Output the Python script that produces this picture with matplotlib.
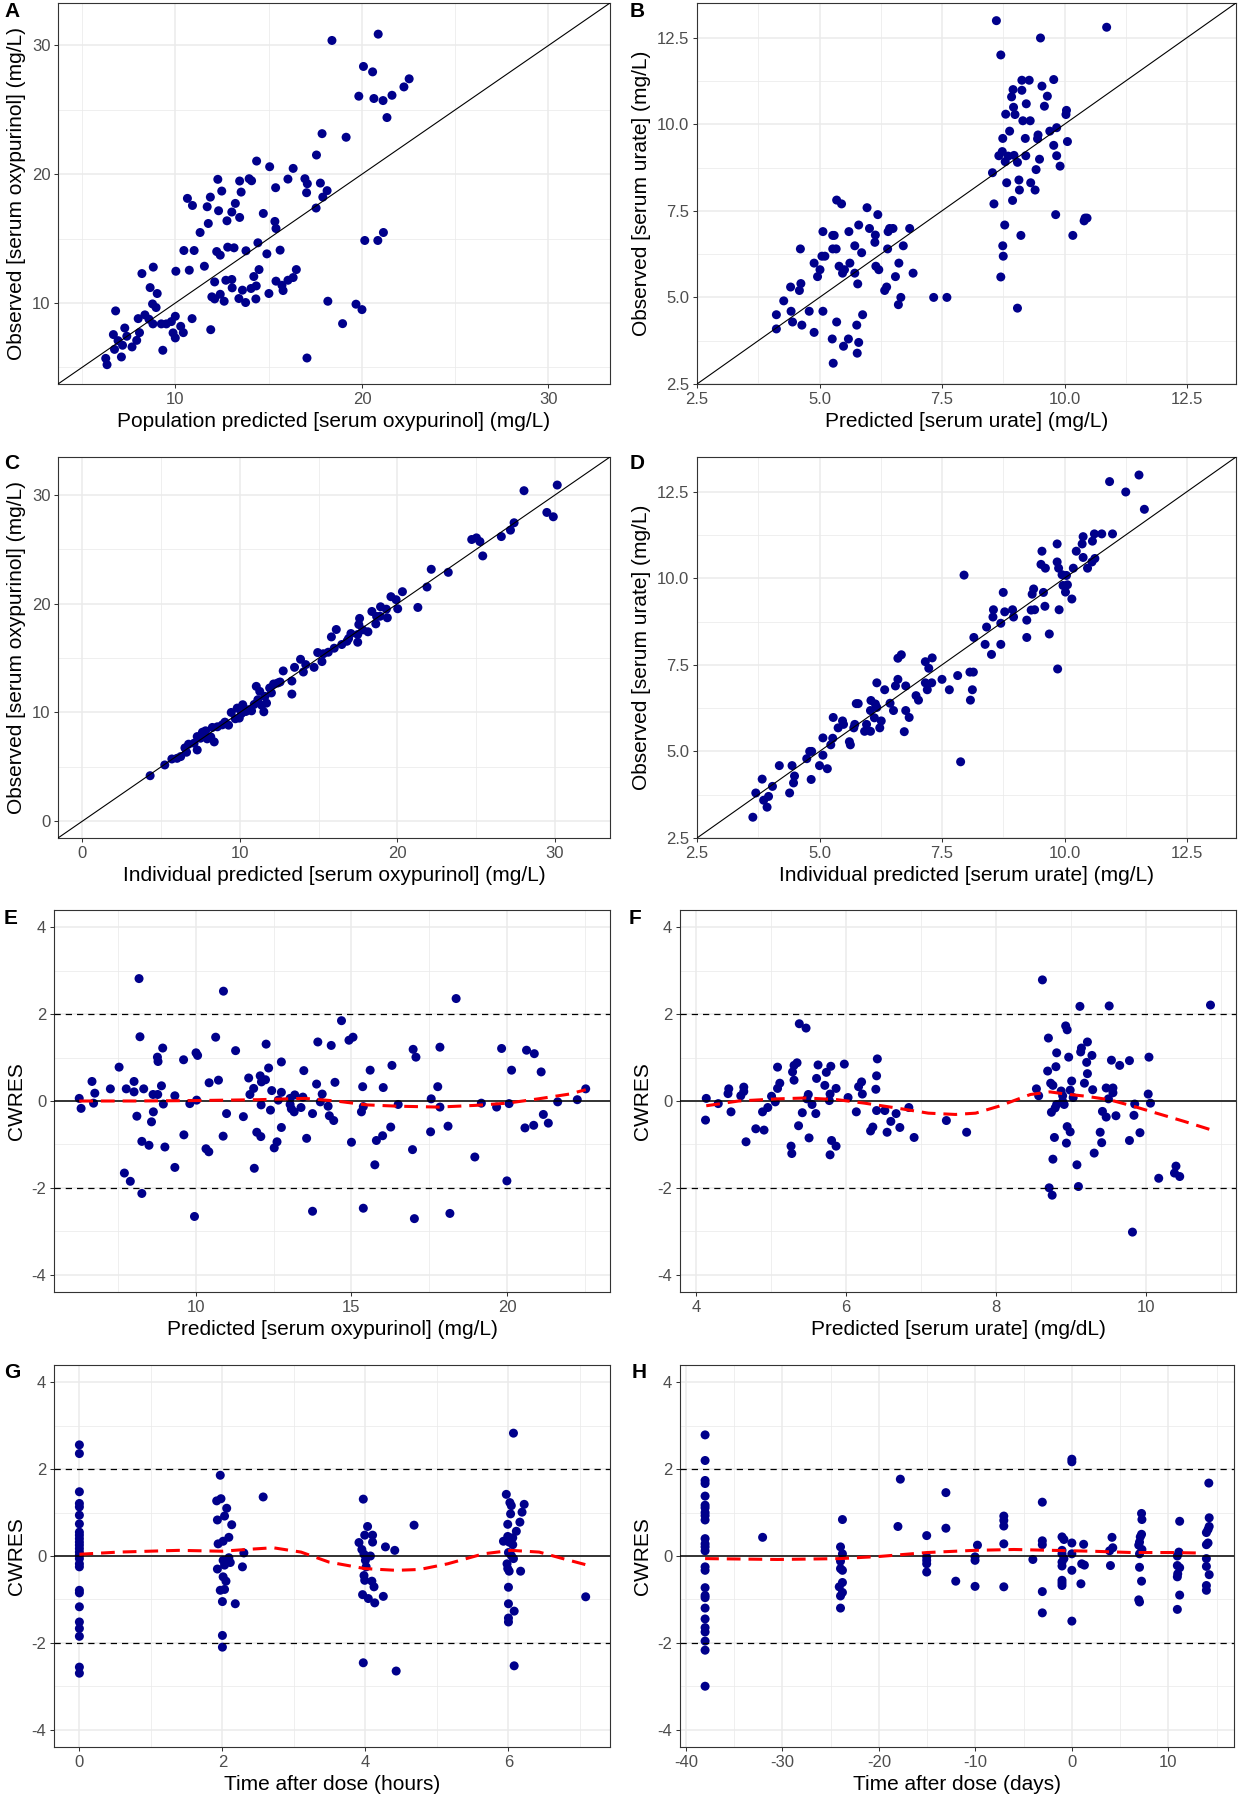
import numpy as np
import matplotlib
matplotlib.use("Agg")
import matplotlib.pyplot as plt

plt.rcParams['font.family'] = ['Liberation Sans', 'DejaVu Sans']
plt.rcParams['axes.unicode_minus'] = False

# ---------------- data ----------------
# A: population predicted vs observed oxypurinol (mg/L)
a_pts = [(20.87, 30.88), (18.39, 30.39), (20.08, 28.37), (20.57, 27.95), (22.53, 27.41),
         (22.25, 26.78), (19.83, 26.06), (20.64, 25.88), (21.13, 25.72), (21.61, 26.13),
         (21.34, 24.40), (17.86, 23.15), (19.15, 22.87), (17.56, 21.49), (14.35, 21.02),
         (15.05, 20.58), (16.31, 20.45), (12.27, 19.60), (13.44, 19.47), (13.95, 19.65),
         (14.08, 19.49), (16.03, 19.62), (16.94, 19.65), (17.07, 19.26), (17.77, 19.31),
         (15.37, 18.95), (12.48, 18.69), (13.52, 18.61), (17.03, 18.56), (18.13, 18.72),
         (17.90, 18.22), (10.64, 18.12), (11.87, 18.22), (10.91, 17.57), (11.70, 17.47),
         (13.21, 17.73), (13.02, 17.06), (12.31, 17.16), (14.71, 16.95), (13.44, 16.64),
         (12.76, 16.38), (11.76, 16.17), (15.33, 16.33), (15.39, 15.78), (17.54, 17.37),
         (11.32, 15.47), (21.15, 15.47), (20.15, 14.85), (20.85, 14.85), (14.42, 14.67),
         (10.45, 14.07), (11.00, 14.07), (12.21, 13.99), (12.40, 13.71), (12.80, 14.33),
         (13.14, 14.28), (13.78, 14.05), (15.61, 14.10), (14.90, 13.81), (11.55, 12.85),
         (10.74, 12.54), (10.02, 12.46), (8.81, 12.78), (8.20, 12.28), (14.48, 12.59),
         (16.48, 12.59), (14.20, 12.05), (16.31, 11.97), (12.10, 11.63), (12.70, 11.76),
         (13.02, 11.82), (15.39, 11.69), (16.03, 11.76), (15.71, 11.37), (14.33, 11.32),
         (14.05, 11.12), (13.59, 10.99), (13.04, 11.17), (8.64, 11.19), (9.02, 10.73),
         (15.01, 10.73), (15.77, 10.96), (11.95, 10.47), (12.40, 10.67), (12.10, 10.31),
         (12.61, 10.13), (13.40, 10.34), (13.76, 10.03), (14.31, 10.31), (8.77, 9.92),
         (8.96, 9.64), (18.17, 10.13), (19.68, 9.90), (20.00, 9.48), (6.79, 9.38),
         (8.00, 8.78), (8.36, 9.07), (8.58, 8.73), (10.89, 8.78), (9.99, 8.96),
         (9.78, 8.55), (9.51, 8.37), (9.24, 8.37), (8.79, 8.37), (10.28, 8.18),
         (18.96, 8.39), (7.28, 8.05), (11.89, 7.92), (8.07, 7.69), (10.42, 7.69),
         (9.87, 7.67), (6.67, 7.54), (9.99, 7.28), (6.92, 7.07), (7.39, 7.41),
         (7.92, 7.09), (7.16, 6.71), (7.67, 6.58), (6.73, 6.39), (9.32, 6.32),
         (7.10, 5.80), (6.26, 5.69), (6.33, 5.20), (17.05, 5.72)]

# B: predicted vs observed urate (mg/L)
b_pts = [(8.61, 12.99), (10.86, 12.80), (9.51, 12.49), (8.70, 12.00), (9.13, 11.27),
         (9.28, 11.27), (9.78, 11.29), (9.54, 11.10), (8.95, 11.00), (9.13, 10.98),
         (8.92, 10.79), (9.65, 10.81), (9.22, 10.59), (9.59, 10.52), (8.96, 10.49),
         (10.04, 10.40), (8.80, 10.29), (8.99, 10.28), (10.03, 10.28), (9.15, 10.10),
         (9.30, 10.10), (8.88, 9.80), (9.70, 9.80), (9.84, 9.90), (8.74, 9.59),
         (9.20, 9.59), (9.46, 9.69), (9.45, 9.58), (9.78, 9.39), (10.06, 9.50),
         (8.73, 9.21), (8.66, 9.09), (8.85, 9.08), (8.97, 9.10), (9.21, 9.09),
         (8.79, 8.92), (9.04, 8.90), (9.84, 9.09), (9.49, 8.99), (9.91, 8.79),
         (8.53, 8.60), (9.42, 8.69), (8.82, 8.31), (9.07, 8.39), (9.31, 8.31),
         (9.08, 8.10), (9.40, 8.10), (8.56, 7.70), (8.94, 7.80), (9.82, 7.39),
         (10.42, 7.29), (10.40, 7.21), (10.46, 7.29), (8.78, 7.09), (10.17, 6.79),
         (9.11, 6.79), (8.74, 6.49), (8.75, 6.19), (8.70, 5.59), (9.04, 4.69),
         (5.35, 7.81), (5.45, 7.70), (5.97, 7.59), (6.19, 7.39), (5.80, 7.09),
         (6.02, 6.99), (6.84, 6.99), (6.50, 6.99), (6.43, 6.99), (6.40, 6.90),
         (5.07, 6.90), (5.27, 6.79), (5.30, 6.79), (5.60, 6.90), (6.14, 6.80),
         (6.13, 6.59), (5.72, 6.49), (6.71, 6.49), (4.61, 6.40), (5.27, 6.40),
         (5.34, 6.40), (6.39, 6.40), (5.86, 6.29), (5.05, 6.19), (5.11, 6.19),
         (4.89, 5.99), (5.62, 5.99), (6.62, 5.99), (5.40, 5.90), (6.15, 5.90),
         (5.01, 5.80), (5.51, 5.80), (6.21, 5.80), (5.47, 5.70), (5.72, 5.70),
         (6.91, 5.70), (4.96, 5.60), (6.55, 5.60), (5.78, 5.39), (4.41, 5.30),
         (4.62, 5.40), (4.59, 5.20), (6.37, 5.30), (6.33, 5.20), (6.66, 5.00),
         (6.61, 4.79), (7.33, 5.00), (7.60, 5.00), (4.27, 4.90), (4.12, 4.50),
         (4.42, 4.60), (4.79, 4.60), (5.07, 4.60), (5.88, 4.50), (4.45, 4.29),
         (5.35, 4.29), (4.64, 4.20), (5.76, 4.20), (4.12, 4.09), (4.89, 3.99),
         (5.26, 3.80), (5.59, 3.80), (5.80, 3.70), (5.49, 3.59), (5.77, 3.39),
         (5.28, 3.10)]

# C: individual predicted vs observed oxypurinol (mg/L)
c_pts = [(30.15, 30.92), (28.04, 30.40), (29.49, 28.40), (29.90, 28.00), (27.41, 27.45),
         (27.18, 26.77), (26.60, 26.18), (24.72, 25.91), (25.02, 26.06), (25.24, 25.72),
         (25.42, 24.40), (22.15, 23.17), (23.23, 22.89), (21.88, 21.54), (20.32, 21.11),
         (19.59, 20.65), (19.92, 20.37), (21.30, 19.66), (20.02, 19.54), (18.93, 19.72),
         (18.38, 19.29), (18.68, 18.83), (19.36, 18.71), (17.60, 18.65), (17.55, 18.09),
         (18.63, 18.15), (18.13, 17.42), (17.48, 17.17), (17.05, 17.26), (16.12, 17.63),
         (15.81, 16.95), (17.48, 16.46), (16.80, 16.55), (16.47, 16.25), (15.99, 15.91),
         (15.61, 15.54), (14.94, 15.51), (15.21, 14.68), (13.85, 14.89), (13.47, 14.15),
         (14.18, 14.40), (14.71, 14.15), (14.03, 13.72), (12.75, 13.82), (12.55, 12.80),
         (13.30, 12.89), (13.30, 11.69), (12.14, 12.62), (11.89, 12.25), (11.04, 12.40),
         (11.26, 11.94), (11.59, 11.48), (11.14, 11.17), (10.91, 10.74), (11.69, 10.86),
         (11.52, 10.06), (10.54, 10.25), (10.18, 10.71), (9.83, 10.40), (9.45, 10.00),
         (9.96, 9.48), (9.71, 9.42), (9.28, 8.83), (9.05, 9.11), (8.57, 8.68),
         (8.25, 8.62), (8.37, 7.29), (7.82, 8.31), (8.15, 7.75), (7.92, 7.57),
         (7.29, 7.78), (7.29, 6.55), (7.09, 7.17), (6.74, 7.08), (6.51, 6.74),
         (6.61, 6.34), (6.24, 5.94), (6.01, 5.78), (5.68, 5.72), (5.23, 5.17),
         (4.30, 4.18), (10.38, 10.09), (10.74, 10.15), (11.39, 10.65), (12.40, 12.71),
         (7.62, 8.18), (7.49, 7.63), (8.88, 8.86), (12.00, 11.80), (16.90, 16.80),
         (17.80, 17.60), (18.90, 18.85), (19.30, 19.50), (15.30, 15.40), (10.10, 9.90)]

# D: individual predicted vs observed urate (mg/L)
d_pts = [(11.52, 12.98), (10.92, 12.79), (11.25, 12.49), (11.63, 11.99), (10.98, 11.28),
         (10.61, 11.28), (10.76, 11.28), (10.38, 11.20), (10.57, 11.07), (10.36, 10.99),
         (9.85, 10.99), (9.54, 10.78), (10.24, 10.78), (10.38, 10.60), (10.62, 10.57),
         (10.56, 10.47), (9.52, 10.40), (9.61, 10.29), (9.85, 10.47), (9.88, 10.29),
         (10.18, 10.29), (10.47, 10.29), (9.95, 10.10), (7.95, 10.09), (10.04, 10.08),
         (9.97, 9.79), (10.06, 9.81), (10.02, 9.60), (10.15, 9.40), (8.75, 9.59),
         (9.37, 9.69), (9.34, 9.54), (9.57, 9.59), (9.60, 9.19), (9.89, 9.09),
         (9.39, 9.09), (9.32, 9.08), (8.55, 9.09), (8.54, 8.88), (8.78, 9.03),
         (8.94, 9.09), (8.96, 8.88), (8.70, 8.70), (9.23, 8.79), (8.41, 8.59),
         (9.69, 8.39), (9.23, 8.29), (8.15, 8.29), (8.38, 8.09), (8.70, 8.09),
         (8.51, 7.80), (9.86, 7.38), (6.67, 7.79), (6.60, 7.69), (7.30, 7.70),
         (7.16, 7.59), (7.23, 7.40), (7.82, 7.19), (7.50, 7.08), (6.60, 7.08),
         (6.17, 6.98), (7.16, 6.98), (7.29, 6.98), (6.55, 6.89), (6.76, 6.89),
         (8.07, 7.29), (8.14, 7.29), (6.33, 6.78), (7.20, 6.78), (7.65, 6.78),
         (8.12, 6.78), (6.97, 6.61), (7.02, 6.48), (8.08, 6.48), (6.05, 6.47),
         (5.75, 6.38), (5.79, 6.38), (6.14, 6.37), (6.44, 6.39), (6.04, 6.18),
         (6.17, 6.27), (6.51, 6.18), (6.76, 6.18), (6.12, 5.97), (6.83, 5.98),
         (5.28, 5.98), (5.47, 5.88), (6.26, 5.88), (5.49, 5.78), (5.72, 5.78),
         (5.96, 5.78), (5.38, 5.68), (5.70, 5.68), (6.23, 5.68), (5.92, 5.58),
         (6.04, 5.58), (6.73, 5.57), (5.61, 5.28), (5.63, 5.19), (5.07, 5.39),
         (5.27, 5.38), (5.23, 5.19), (4.80, 5.00), (4.84, 5.00), (4.74, 4.79),
         (5.07, 4.89), (5.00, 4.59), (5.16, 4.50), (4.18, 4.59), (4.44, 4.59),
         (4.49, 4.29), (4.47, 4.09), (4.83, 4.19), (3.83, 4.20), (4.04, 3.99),
         (3.70, 3.80), (4.39, 3.80), (3.96, 3.70), (3.86, 3.59), (3.93, 3.39),
         (3.64, 3.10), (7.88, 4.70)]

# E: predicted oxypurinol vs CWRES
e_pts = [(8.18, 2.82), (10.89, 2.53), (18.36, 2.36), (14.68, 1.85), (8.21, 1.48),
         (10.64, 1.47), (15.05, 1.47), (14.92, 1.40), (13.92, 1.36), (12.26, 1.31),
         (14.35, 1.28), (8.94, 1.22), (17.84, 1.24), (19.82, 1.21), (16.98, 1.19),
         (20.62, 1.17), (20.87, 1.09), (11.28, 1.16), (10.01, 1.11), (10.06, 1.05),
         (17.07, 1.01), (8.77, 1.01), (8.79, 0.91), (9.61, 0.95), (12.75, 0.90),
         (7.54, 0.78), (12.34, 0.76), (16.30, 0.82), (13.47, 0.70), (15.60, 0.71),
         (20.14, 0.71), (21.09, 0.67), (12.07, 0.58), (11.70, 0.53), (6.67, 0.45),
         (8.02, 0.45), (10.73, 0.48), (10.43, 0.42), (12.24, 0.49), (12.11, 0.44),
         (14.47, 0.43), (8.90, 0.35), (13.88, 0.39), (15.36, 0.33), (16.02, 0.31),
         (17.77, 0.33), (7.26, 0.28), (7.77, 0.28), (8.33, 0.28), (22.52, 0.28),
         (11.86, 0.29), (12.44, 0.24), (8.02, 0.21), (6.76, 0.18), (12.75, 0.20),
         (8.63, 0.15), (8.78, 0.15), (14.06, 0.16), (11.74, 0.15), (9.33, 0.12),
         (13.18, 0.14), (13.44, 0.09), (6.26, 0.06), (13.03, 0.06), (17.56, 0.05),
         (22.25, 0.03), (21.62, -0.02), (10.03, 0.02), (12.65, 0.02), (14.00, -0.02),
         (19.17, -0.05), (16.50, -0.08), (6.72, -0.05), (8.96, -0.07), (9.81, -0.06),
         (13.03, -0.08), (20.06, -0.06), (12.10, -0.09), (14.25, -0.12), (15.38, -0.13),
         (17.84, -0.14), (19.66, -0.14), (6.32, -0.17), (13.38, -0.15), (13.07, -0.18),
         (12.40, -0.21), (13.16, -0.25), (15.32, -0.25), (8.64, -0.25), (13.75, -0.29),
         (10.99, -0.29), (21.16, -0.31), (8.11, -0.35), (11.53, -0.36), (14.29, -0.34),
         (14.43, -0.45), (8.58, -0.48), (21.32, -0.51), (20.85, -0.56), (18.10, -0.58),
         (16.26, -0.60), (12.75, -0.61), (20.57, -0.62), (17.54, -0.71), (11.96, -0.72),
         (9.62, -0.78), (12.09, -0.82), (10.88, -0.81), (16.00, -0.80), (15.80, -0.91),
         (13.56, -0.86), (8.27, -0.93), (12.61, -0.94), (15.00, -0.95), (8.50, -1.02),
         (9.01, -1.06), (10.33, -1.10), (12.52, -1.08), (10.42, -1.17), (16.96, -1.12),
         (18.96, -1.29), (15.75, -1.47), (9.33, -1.53), (11.88, -1.55), (7.71, -1.66),
         (7.90, -1.85), (19.99, -1.84), (8.27, -2.13), (15.38, -2.47), (13.75, -2.54),
         (18.16, -2.59), (9.96, -2.66), (17.02, -2.71)]
e_trend = [(6.26, 0.0), (8.0, 0.0), (10.0, 0.01), (12.0, 0.03), (13.5, 0.06),
           (14.5, 0.0), (15.5, -0.09), (16.5, -0.12), (17.8, -0.14), (19.0, -0.10),
           (20.0, -0.05), (21.0, 0.05), (22.0, 0.16), (22.52, 0.26)]

# F: predicted urate vs CWRES
f_pts = [(8.62, 2.79), (9.12, 2.18), (9.51, 2.19), (10.86, 2.21), (8.93, 1.73),
         (8.95, 1.64), (5.38, 1.78), (5.47, 1.68), (8.70, 1.45), (9.22, 1.36),
         (9.14, 1.22), (9.13, 1.13), (8.81, 1.11), (9.28, 1.05), (8.97, 1.01),
         (10.04, 1.01), (6.42, 0.97), (9.54, 0.94), (9.78, 0.93), (9.21, 0.89),
         (9.65, 0.82), (5.35, 0.88), (5.31, 0.82), (5.63, 0.83), (5.80, 0.80),
         (5.98, 0.85), (5.09, 0.78), (8.80, 0.79), (5.29, 0.67), (5.74, 0.66),
         (8.69, 0.69), (9.22, 0.63), (6.41, 0.58), (5.61, 0.52), (5.31, 0.48),
         (9.01, 0.46), (5.12, 0.41), (6.21, 0.44), (8.73, 0.41), (8.76, 0.36),
         (5.72, 0.36), (9.18, 0.41), (6.17, 0.33), (4.64, 0.32), (5.09, 0.29),
         (5.87, 0.29), (6.40, 0.27), (4.44, 0.28), (9.47, 0.30), (9.56, 0.30),
         (8.54, 0.28), (9.29, 0.26), (8.99, 0.25), (8.87, 0.23), (9.56, 0.19),
         (4.64, 0.22), (4.43, 0.17), (6.22, 0.16), (5.50, 0.15), (5.79, 0.16),
         (10.03, 0.16), (4.60, 0.12), (8.57, 0.12), (8.89, 0.12), (5.01, 0.11),
         (6.03, 0.08), (4.14, 0.06), (9.03, 0.08), (9.50, 0.05), (5.48, 0.05),
         (5.06, -0.02), (5.78, 0.01), (8.89, -0.01), (10.06, -0.05), (4.30, -0.06),
         (9.85, -0.07), (8.81, -0.08), (5.55, -0.08), (8.91, -0.08), (4.96, -0.15),
         (8.79, -0.16), (6.41, -0.22), (6.52, -0.22), (4.47, -0.25), (4.89, -0.25),
         (6.14, -0.25), (9.42, -0.24), (8.74, -0.26), (5.42, -0.27), (6.84, -0.15),
         (5.60, -0.29), (6.67, -0.29), (9.60, -0.34), (9.84, -0.33), (9.47, -0.37),
         (6.60, -0.47), (4.13, -0.44), (7.34, -0.45), (5.37, -0.57), (8.95, -0.59),
         (4.80, -0.64), (4.91, -0.67), (6.72, -0.61), (6.36, -0.60), (6.33, -0.69),
         (8.99, -0.71), (6.55, -0.72), (7.61, -0.72), (9.39, -0.72), (9.92, -0.73),
         (5.51, -0.85), (6.91, -0.84), (8.78, -0.84), (4.67, -0.94), (5.81, -0.91),
         (9.78, -0.91), (8.94, -0.97), (9.41, -0.96), (5.87, -1.04), (5.27, -1.04),
         (5.28, -1.21), (5.79, -1.24), (9.31, -1.20), (8.76, -1.34), (9.08, -1.47),
         (10.40, -1.50), (10.38, -1.66), (10.45, -1.74), (10.17, -1.78), (9.10, -1.97),
         (8.71, -2.00), (8.75, -2.17), (9.82, -3.02)]
f_trend = [(4.14, -0.11), (4.57, 0.0), (5.10, 0.05), (5.47, 0.07), (5.89, 0.03),
           (6.25, -0.05), (6.67, -0.16), (7.10, -0.28), (7.46, -0.31), (7.73, -0.28),
           (8.04, -0.12), (8.46, 0.15), (8.72, 0.21), (8.93, 0.16), (9.20, 0.11),
           (9.51, 0.03), (9.83, -0.12), (10.14, -0.28), (10.51, -0.47), (10.86, -0.66)]

# G: time after dose (hours) vs CWRES
g_pts = [(0.0, 2.56), (0.0, 2.36), (0.0, 1.48), (0.0, 1.21), (0.0, 1.13), (0.0, 0.94),
         (0.0, 0.74), (0.0, 0.55), (0.0, 0.48), (0.0, 0.40), (0.0, 0.32), (0.0, 0.25),
         (0.0, 0.17), (0.0, 0.09), (0.0, 0.02), (0.0, -0.06), (0.0, -0.18), (0.0, -0.25),
         (0.0, -0.79), (0.0, -0.85), (0.0, -1.17), (0.0, -1.52), (0.0, -1.67), (0.0, -1.85),
         (0.0, -2.56), (0.0, -2.70),
         (1.97, 1.86), (1.92, 1.27), (1.98, 1.32), (2.06, 1.10), (2.03, 0.92), (1.93, 0.83),
         (2.13, 0.72), (2.57, 1.36), (2.09, 0.43), (2.01, 0.34), (1.94, 0.28), (2.30, 0.07),
         (2.09, -0.04), (2.01, -0.10), (2.11, -0.15), (2.03, -0.21), (2.28, -0.25),
         (1.93, -0.30), (2.01, -0.48), (2.05, -0.58), (1.97, -0.79), (2.03, -0.77),
         (2.00, -1.05), (2.18, -1.10), (2.00, -1.83), (2.00, -2.10),
         (3.97, 1.31), (4.03, 0.68), (3.91, 0.31), (3.99, 0.48), (4.10, 0.48), (4.10, 0.32),
         (3.95, 0.15), (3.98, 0.04), (4.07, 0.00), (4.28, 0.21), (4.41, 0.13), (4.68, 0.71),
         (4.00, -0.10), (4.01, -0.25), (3.98, -0.45), (3.99, -0.56), (4.09, -0.58),
         (4.12, -0.71), (3.96, -0.89), (4.04, -0.98), (4.13, -1.08), (4.25, -0.93),
         (3.97, -2.46), (4.43, -2.65),
         (6.07, 2.83), (5.97, 1.42), (6.02, 1.23), (6.04, 1.16), (6.22, 1.19), (6.19, 1.01),
         (6.03, 0.97), (6.16, 0.78), (5.99, 0.73), (6.11, 0.57), (5.99, 0.45), (6.06, 0.42),
         (5.93, 0.34), (6.01, 0.32), (6.06, 0.26), (6.00, 0.08), (6.04, 0.01), (6.07, -0.06),
         (5.98, -0.18), (5.99, -0.29), (6.01, -0.35), (6.17, -0.35), (6.00, -0.72),
         (6.00, -1.10), (6.08, -1.27), (6.00, -1.43), (6.00, -1.52), (6.08, -2.53),
         (7.08, -0.94)]
g_trend = [(0.0, 0.04), (0.55, 0.09), (1.39, 0.13), (2.0, 0.11), (2.33, 0.15), (2.71, 0.19),
           (3.10, 0.09), (3.49, -0.14), (3.99, -0.29), (4.43, -0.33), (4.76, -0.31),
           (5.15, -0.18), (5.65, 0.05), (6.04, 0.13), (6.43, 0.09), (6.76, -0.06),
           (7.08, -0.20)]

# H: time after dose (days) vs CWRES
h_pts = [(-38.0, 2.79), (-38.0, 2.20), (-38.0, 1.74), (-38.0, 1.67), (-38.0, 1.38),
         (-38.0, 1.17), (-38.0, 1.11), (-38.0, 1.00), (-38.0, 0.93), (-38.0, 0.83),
         (-38.0, 0.40), (-38.0, 0.28), (-38.0, 0.21), (-38.0, 0.12), (-38.0, -0.25),
         (-38.0, -0.33), (-38.0, -0.73), (-38.0, -0.91), (-38.0, -0.96), (-38.0, -1.20),
         (-38.0, -1.45), (-38.0, -1.65), (-38.0, -1.75), (-38.0, -1.96), (-38.0, -2.17),
         (-38.0, -3.00), (-32.04, 0.43),
         (-23.77, 0.84), (-23.97, 0.21), (-23.77, 0.05), (-23.97, -0.12), (-23.97, -0.29),
         (-23.77, -0.33), (-23.77, -0.61), (-24.1, -0.71), (-23.77, -0.84), (-23.97, -0.92),
         (-23.97, -1.20),
         (-17.77, 1.77), (-18.02, 0.68),
         (-15.04, 0.47), (-15.04, -0.02), (-15.04, -0.10), (-15.04, -0.18), (-15.04, -0.37),
         (-13.05, 1.46), (-13.05, 0.64), (-12.03, -0.58),
         (-9.78, 0.25), (-10.03, -0.02), (-10.03, -0.10), (-10.03, -0.70),
         (-7.05, 0.92), (-7.05, 0.82), (-7.05, 0.69), (-7.05, 0.28), (-7.05, -0.71),
         (-3.06, 1.24), (-3.06, 0.35), (-3.06, 0.26), (-3.06, -0.82), (-3.06, -1.31),
         (-4.04, -0.08),
         (-1.02, 0.44), (-0.82, 0.38), (-1.02, 0.13), (-1.02, 0.05), (-0.82, -0.06),
         (-1.02, -0.14), (-1.02, -0.23), (-1.02, -0.56), (-1.02, -0.62), (-1.02, -0.68),
         (0.0, 2.23), (0.0, 2.17), (0.0, 0.30), (0.0, 0.05), (0.0, -0.33), (0.0, -1.50),
         (1.22, 0.27), (1.02, -0.18), (1.30, -0.21), (0.94, -0.64),
         (4.16, 0.43), (4.24, 0.19), (3.91, 0.12), (4.00, -0.22),
         (7.22, 0.98), (7.26, 0.84), (7.22, 0.50), (7.09, 0.44), (7.01, 0.32), (6.93, 0.25),
         (7.26, 0.15), (7.01, 0.05), (7.01, -0.26), (7.22, -0.58), (6.93, -1.01),
         (7.01, -1.06),
         (11.17, 0.80), (11.09, 0.09), (10.93, 0.00), (10.93, -0.22), (11.17, -0.27),
         (10.97, -0.41), (10.93, -0.48), (11.17, -0.90), (10.93, -1.23),
         (14.19, 1.68), (14.23, 0.88), (14.23, 0.68), (14.11, 0.61), (13.94, 0.54),
         (14.11, 0.30), (13.94, 0.26), (13.94, -0.06), (13.94, -0.24), (14.23, -0.43),
         (13.94, -0.68), (13.94, -0.79)]
h_trend = [(-38.0, -0.06), (-30.5, -0.08), (-24.0, -0.06), (-19.9, -0.01), (-15.0, 0.08),
           (-10.1, 0.13), (-6.0, 0.15), (-2.0, 0.13), (2.1, 0.11), (6.2, 0.08),
           (10.3, 0.08), (12.9, 0.07)]

oxy_ticks = [10, 20, 30]
oxy_ticks_c = [0, 10, 20, 30]
urate_ticks = [2.5, 5.0, 7.5, 10.0, 12.5]
cwres_ticks = [-4, -2, 0, 2, 4]
e_xticks = [10, 15, 20]
f_xticks = [4, 6, 8, 10]
g_xticks = [0, 2, 4, 6]
h_xticks = [-40, -30, -20, -10, 0, 10]

# ---------------- drawing ----------------
W, H = 1239, 1800
fig = plt.figure(figsize=(W / 100, H / 100), dpi=100)

PT_COL = '#00008B'
GRID = '#EBEBEB'
DARK = '#333333'
TICKLAB = '#4D4D4D'
TICK_FS = 12
TITLE_FS = 15


def add_ax(left, top, right, bottom):
    return fig.add_axes([left / W, 1 - bottom / H, (right - left) / W, (bottom - top) / H])


def minors(major, lo, hi):
    step = major[1] - major[0]
    m = [major[0] - step / 2] + [t + step / 2 for t in major]
    return [v for v in m if lo <= v <= hi]


def setup(ax, xlim, ylim, xt, yt, fmt, xlabel, ylabel):
    ax.set_xlim(xlim)
    ax.set_ylim(ylim)
    ax.set_xticks(xt)
    ax.set_yticks(yt)
    ax.set_xticks(minors(xt, *xlim), minor=True)
    ax.set_yticks(minors(yt, *ylim), minor=True)
    ax.set_xticklabels([fmt(t) for t in xt] if fmt else [str(t) for t in xt])
    ax.set_yticklabels([fmt(t) for t in yt] if fmt else [str(t) for t in yt])
    ax.grid(which='major', color=GRID, lw=1.1, zorder=0)
    ax.grid(which='minor', color=GRID, lw=0.55, zorder=0)
    ax.set_axisbelow(True)
    ax.tick_params(which='major', length=3, width=0.75, color=DARK,
                   labelsize=TICK_FS, labelcolor=TICKLAB, pad=2.5)
    ax.tick_params(which='minor', length=0)
    for s in ax.spines.values():
        s.set_color(DARK)
        s.set_linewidth(0.8)
    ax.set_xlabel(xlabel, fontsize=TITLE_FS, labelpad=4)
    ax.set_ylabel(ylabel, fontsize=TITLE_FS, labelpad=4)


def scatter(ax, pts):
    x, y = zip(*pts)
    ax.scatter(x, y, s=42, color=PT_COL, edgecolors='none', zorder=3)


def identity(ax, lim):
    ax.plot(lim, lim, color='black', lw=0.8, zorder=4)


def residual_lines(ax, trend):
    ax.axhline(0, color='black', lw=1.1, zorder=4)
    for yv in (-2, 2):
        ax.axhline(yv, color='black', lw=0.9, dashes=(5, 4), zorder=4)
    tx, ty = zip(*trend)
    ax.plot(tx, ty, color='#FF0000', lw=2.2, dashes=(4.5, 2.6), zorder=5)


dec1 = lambda t: f'{t:.1f}'

# A
ax = add_ax(58, 3, 610, 384)
lim = (3.7, 33.3)
setup(ax, lim, lim, oxy_ticks, oxy_ticks, None,
      'Population predicted [serum oxypurinol] (mg/L)', 'Observed [serum oxypurinol] (mg/L)')
scatter(ax, a_pts)
identity(ax, lim)

# B
ax = add_ax(697, 3, 1236, 384)
lim = (2.5, 13.5)
setup(ax, lim, lim, urate_ticks, urate_ticks, dec1,
      'Predicted [serum urate] (mg/L)', 'Observed [serum urate] (mg/L)')
scatter(ax, b_pts)
identity(ax, lim)

# C
ax = add_ax(58, 457, 610, 838)
lim = (-1.55, 33.5)
setup(ax, lim, lim, oxy_ticks_c, oxy_ticks_c, None,
      'Individual predicted [serum oxypurinol] (mg/L)', 'Observed [serum oxypurinol] (mg/L)')
scatter(ax, c_pts)
identity(ax, lim)

# D
ax = add_ax(697, 457, 1236, 838)
lim = (2.5, 13.5)
setup(ax, lim, lim, urate_ticks, urate_ticks, dec1,
      'Individual predicted [serum urate] (mg/L)', 'Observed [serum urate] (mg/L)')
scatter(ax, d_pts)
identity(ax, lim)

# E
ax = add_ax(54, 910, 610, 1292)
setup(ax, (5.45, 23.3), (-4.4, 4.4), e_xticks, cwres_ticks, None,
      'Predicted [serum oxypurinol] (mg/L)', 'CWRES')
scatter(ax, e_pts)
residual_lines(ax, e_trend)

# F
ax = add_ax(680, 910, 1236, 1292)
setup(ax, (3.79, 11.2), (-4.4, 4.4), f_xticks, cwres_ticks, None,
      'Predicted [serum urate] (mg/dL)', 'CWRES')
scatter(ax, f_pts)
residual_lines(ax, f_trend)

# G
ax = add_ax(54, 1365, 610, 1747)
setup(ax, (-0.355, 7.42), (-4.4, 4.4), g_xticks, cwres_ticks, None,
      'Time after dose (hours)', 'CWRES')
scatter(ax, g_pts)
residual_lines(ax, g_trend)

# H
ax = add_ax(680, 1365, 1234, 1747)
setup(ax, (-40.6, 16.8), (-4.4, 4.4), h_xticks, cwres_ticks, None,
      'Time after dose (days)', 'CWRES')
scatter(ax, h_pts)
residual_lines(ax, h_trend)

# panel letters
for lab, (px, py) in zip('ABCDEFGH', [(4, 2), (630, 2), (4, 454), (630, 454),
                                      (4, 909), (629, 909), (4, 1363), (632, 1363)]):
    fig.text(px / W, 1 - py / H, lab, fontsize=15, fontweight='bold',
             ha='left', va='top')

fig.savefig('out.png', dpi=100)
